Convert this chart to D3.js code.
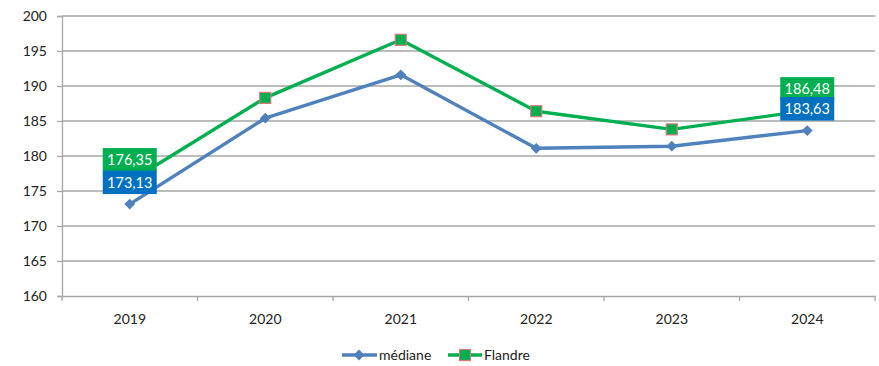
<!DOCTYPE html>
<html><head><meta charset="utf-8">
<script src="https://cdn.jsdelivr.net/npm/d3@7"></script>
<style>body{margin:0;background:#fff}svg{display:block}text{font-family:Lato,"Open Sans",sans-serif}</style>
</head><body><svg id="c" width="879" height="366"></svg>
<script>
const years = ["2019","2020","2021","2022","2023","2024"];
const mediane = [173.13, 185.4, 191.6, 181.1, 181.4, 183.63];
const flandre = [176.35, 188.3, 196.6, 186.4, 183.8, 186.48];
const yTicks = [160,165,170,175,180,185,190,195,200];
const seriesNames = ["médiane","Flandre"];
const labelIdx = [0,5];

const svg = d3.select("#c");
const L=62, R=875, T=16, B=296;
const x = d3.scaleBand().domain(years).range([L,R]);
const y = d3.scaleLinear().domain([160,200]).range([B,T]);
const blue="#4f81bd", green="#00b050";

svg.append("g").selectAll("line").data(yTicks.filter(d=>d>160)).join("line")
  .attr("x1",L).attr("x2",R).attr("y1",d=>y(d)).attr("y2",d=>y(d))
  .attr("stroke","#a6a6a6").attr("stroke-width",1.3);

const ya = svg.append("g").attr("transform",`translate(${L},0)`)
  .call(d3.axisLeft(y).tickValues(yTicks).tickSize(5).tickPadding(10).tickFormat(d3.format("d")));
ya.select(".domain").attr("stroke","#a6a6a6").attr("stroke-width",1.3);
ya.selectAll(".tick line").attr("stroke","#a6a6a6").attr("stroke-width",1.3);
ya.selectAll("text").attr("font-size",14).attr("fill","#222").attr("font-family","Lato");

const xa = svg.append("g").attr("transform",`translate(0,${B})`)
  .call(d3.axisBottom(x).tickSize(0).tickPadding(18));
xa.select(".domain").attr("stroke","#a6a6a6").attr("stroke-width",1.3);
xa.selectAll("text").attr("font-size",14).attr("fill","#222").attr("font-family","Lato");
const bounds = years.map(d=>x(d)).concat([R]);
xa.selectAll(".bt").data(bounds).join("line").attr("class","bt")
  .attr("x1",d=>d).attr("x2",d=>d).attr("y1",0).attr("y2",5)
  .attr("stroke","#a6a6a6").attr("stroke-width",1.3);

const cx = d=>x(d)+x.bandwidth()/2;
const line = d3.line().x((d,i)=>cx(years[i])).y(d=>y(d));

svg.append("path").datum(mediane).attr("d",line).attr("fill","none")
  .attr("stroke",blue).attr("stroke-width",3.4).attr("stroke-linejoin","round");
svg.append("path").datum(flandre).attr("d",line).attr("fill","none")
  .attr("stroke",green).attr("stroke-width",3.4).attr("stroke-linejoin","round");

const diamond = d3.symbol().type(d3.symbolDiamond2).size(75);
svg.append("g").selectAll("path").data(mediane).join("path")
  .attr("d",diamond).attr("transform",(d,i)=>`translate(${cx(years[i])},${y(d)})`)
  .attr("fill",blue);
svg.append("g").selectAll("rect").data(flandre).join("rect")
  .attr("x",(d,i)=>cx(years[i])-5.5).attr("y",d=>y(d)-5.5)
  .attr("width",11).attr("height",11).attr("fill",green)
  .attr("stroke","#d9787a").attr("stroke-width",1.2);

const fmt = v=>d3.format(".2f")(v).replace(".",",");
function labels(data, color){
  const g = svg.append("g");
  labelIdx.forEach(i=>{
    const px=cx(years[i]), py=y(data[i]);
    const w=54, h=23.5;
    g.append("rect").attr("x",px-w/2).attr("y",py-10-h).attr("width",w).attr("height",h).attr("fill",color);
    g.append("text").attr("x",px).attr("y",py-10-h/2).attr("dy","0.36em")
      .attr("text-anchor","middle").attr("fill","#fff").attr("font-size",14.5)
      .attr("font-family","Lato").text(fmt(data[i]));
  });
}
labels(flandre, green);
labels(mediane, "#0070c0");

const lg = svg.append("g");
const ly=355;
lg.append("line").attr("x1",342).attr("x2",377).attr("y1",ly).attr("y2",ly).attr("stroke",blue).attr("stroke-width",3.4);
lg.append("path").attr("d",diamond).attr("transform",`translate(359,${ly})`).attr("fill",blue);
lg.append("text").attr("x",379).attr("y",ly).attr("dy","0.35em").attr("font-size",14).attr("fill","#222").text(seriesNames[0]);
lg.append("line").attr("x1",448).attr("x2",482).attr("y1",ly).attr("y2",ly).attr("stroke",green).attr("stroke-width",3.4);
lg.append("rect").attr("x",459.5).attr("y",ly-5.5).attr("width",11).attr("height",11).attr("fill",green).attr("stroke","#d9787a").attr("stroke-width",1.2);
lg.append("text").attr("x",484).attr("y",ly).attr("dy","0.35em").attr("font-size",14).attr("fill","#222").text(seriesNames[1]);
</script></body></html>
